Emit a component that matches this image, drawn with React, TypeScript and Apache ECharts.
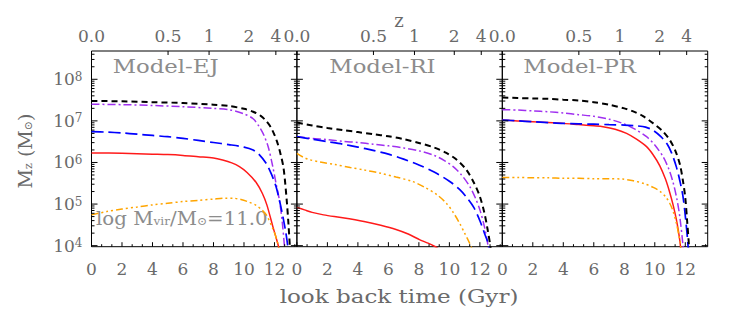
import React, { useEffect, useRef } from 'react';
import * as echarts from 'echarts';

// ---------- axis constants ----------
const X_MAX = 13.47; // age of universe (Gyr) -> right edge of each panel
const Y_MIN = 3.975; // log10 Mz
const Y_MAX = 8.68;
const TIME_TICKS = [0, 2, 4, 6, 8, 10, 12];
const Z_LABELS = ['0.0', '0.5', '1', '2', '4'];
const Z_LOOKBACK = [0, 5.02, 7.71, 10.32, 12.09];
const LOG_TICKS = [4, 5, 6, 7, 8];
const MODEL_NAMES = ['Model-EJ', 'Model-RI', 'Model-PR'];

// ---------- data: [look back time (Gyr), log10 Mz (Msun)] ----------
const EJ_BLACK = [[0, 7.48], [2, 7.47], [4, 7.45], [6, 7.43], [8, 7.39], [9, 7.36], [10, 7.29], [10.6, 7.22], [11.1, 7.12], [11.45, 7.0], [11.8, 6.82], [12.15, 6.52], [12.4, 6.2], [12.6, 5.85], [12.8, 5.1], [12.92, 4.5], [13.02, 3.9], [13.06, 3.5]];
const EJ_PURPLE = [[0, 7.4], [2, 7.39], [4, 7.37], [6, 7.34], [8, 7.3], [9, 7.27], [10, 7.17], [10.6, 7.05], [11.0, 6.86], [11.3, 6.66], [11.6, 6.36], [11.9, 5.88], [12.1, 5.5], [12.32, 5.1], [12.5, 4.6], [12.65, 4.0], [12.72, 3.6]];
const EJ_BLUE = [[0, 6.74], [1, 6.73], [2, 6.71], [3, 6.68], [4, 6.65], [5, 6.62], [6, 6.58], [7, 6.53], [8, 6.48], [9, 6.43], [10, 6.37], [10.6, 6.3], [11.0, 6.19], [11.45, 5.98], [11.8, 5.72], [12.1, 5.42], [12.35, 5.05], [12.55, 4.7], [12.75, 4.3], [12.88, 3.95], [12.95, 3.6]];
const EJ_RED = [[0, 6.23], [2, 6.22], [4, 6.2], [5, 6.19], [6, 6.17], [7, 6.14], [8, 6.11], [8.6, 6.06], [9.2, 5.99], [9.7, 5.9], [10.2, 5.76], [10.8, 5.52], [11.2, 5.26], [11.5, 4.98], [11.9, 4.45], [12.1, 4.2], [12.28, 3.95], [12.35, 3.7]];
const EJ_ORANGE = [[0, 4.74], [1, 4.82], [2, 4.88], [3, 4.93], [4, 4.98], [5, 5.02], [6, 5.06], [7, 5.09], [8, 5.12], [8.8, 5.14], [9.3, 5.14], [9.8, 5.11], [10.3, 5.05], [10.8, 4.97], [11.2, 4.85], [11.5, 4.72], [11.9, 4.4], [12.1, 4.2], [12.28, 3.95], [12.35, 3.7]];

const RI_BLACK = [[0, 6.96], [1, 6.89], [2, 6.83], [3, 6.78], [4, 6.73], [5, 6.68], [6, 6.63], [7, 6.56], [8, 6.47], [9, 6.36], [9.8, 6.23], [10.5, 6.06], [11.1, 5.83], [11.6, 5.52], [12.0, 5.18], [12.3, 4.78], [12.5, 4.4], [12.7, 3.95], [12.76, 3.6]];
const RI_PURPLE = [[0, 6.62], [1, 6.58], [2, 6.55], [3, 6.51], [4, 6.48], [5, 6.44], [6, 6.4], [7, 6.35], [8, 6.28], [9, 6.17], [9.7, 6.04], [10.25, 5.9], [10.8, 5.7], [11.34, 5.42], [11.7, 5.15], [12.0, 4.86], [12.3, 4.45], [12.53, 4.0], [12.6, 3.6]];
const RI_BLUE = [[0, 6.62], [1, 6.56], [2, 6.5], [3, 6.44], [4, 6.37], [5, 6.29], [6, 6.2], [7, 6.08], [8, 5.94], [9, 5.77], [10, 5.55], [10.7, 5.34], [11.2, 5.13], [11.6, 4.92], [12.0, 4.6], [12.3, 4.3], [12.6, 3.98], [12.66, 3.6]];
const RI_RED = [[0, 4.92], [0.5, 4.86], [1, 4.8], [1.75, 4.74], [3, 4.67], [4.4, 4.58], [5.5, 4.49], [6.5, 4.39], [7.3, 4.28], [8.07, 4.14], [8.6, 4.06], [9.05, 3.98], [9.3, 3.92]];
const RI_ORANGE = [[0, 6.22], [0.4, 6.13], [0.8, 6.07], [1.5, 6.01], [2.5, 5.95], [3.5, 5.88], [4.4, 5.82], [5.5, 5.74], [6.5, 5.65], [7.6, 5.54], [8.4, 5.4], [9.2, 5.22], [9.8, 5.02], [10.25, 4.8], [10.7, 4.52], [11.0, 4.3], [11.3, 4.08], [11.45, 3.95], [11.55, 3.6]];

const PR_BLACK = [[0, 7.56], [1, 7.55], [2, 7.54], [3, 7.53], [4, 7.51], [5, 7.49], [6, 7.45], [7, 7.39], [8, 7.3], [8.5, 7.24], [9.2, 7.12], [9.9, 6.94], [10.5, 6.76], [11.0, 6.53], [11.35, 6.28], [11.65, 5.95], [11.85, 5.55], [12.0, 5.15], [12.12, 4.6], [12.24, 4.0], [12.28, 3.6]];
const PR_PURPLE = [[0, 7.27], [1, 7.26], [2, 7.24], [3, 7.22], [4, 7.19], [5, 7.15], [6, 7.11], [7, 7.04], [7.9, 6.94], [8.7, 6.8], [9.46, 6.62], [10.0, 6.42], [10.54, 6.14], [10.9, 5.86], [11.2, 5.52], [11.45, 5.12], [11.63, 4.72], [11.85, 4.0], [11.9, 3.6]];
const PR_BLUE = [[0, 7.02], [1, 7.0], [2, 6.98], [3, 6.96], [4, 6.94], [5, 6.93], [6, 6.92], [7, 6.91], [8, 6.9], [8.8, 6.88], [9.4, 6.85], [9.9, 6.77], [10.4, 6.62], [10.8, 6.45], [11.1, 6.23], [11.41, 5.9], [11.65, 5.55], [11.85, 5.18], [12.02, 4.65], [12.18, 4.0], [12.22, 3.6]];
const PR_RED = [[0, 7.02], [1, 7.0], [2, 6.98], [3, 6.96], [4, 6.94], [5, 6.91], [6, 6.88], [6.6, 6.86], [7.4, 6.8], [8.15, 6.7], [8.8, 6.56], [9.46, 6.38], [9.9, 6.18], [10.33, 5.92], [10.7, 5.6], [10.98, 5.28], [11.2, 4.98], [11.41, 4.64], [11.55, 4.35], [11.68, 4.0], [11.72, 3.6]];
const PR_ORANGE = [[0, 5.64], [1, 5.64], [2, 5.63], [3, 5.63], [4, 5.62], [5, 5.62], [6, 5.61], [7, 5.61], [7.9, 5.6], [8.6, 5.56], [9.3, 5.49], [9.9, 5.4], [10.36, 5.3], [10.7, 5.18], [10.98, 5.02], [11.2, 4.83], [11.41, 4.55], [11.58, 4.25], [11.7, 4.0], [11.75, 3.6]];

const PANELS = [
  { red: EJ_RED, orange: EJ_ORANGE, purple: EJ_PURPLE, blue: EJ_BLUE, black: EJ_BLACK },
  { red: RI_RED, orange: RI_ORANGE, purple: RI_PURPLE, blue: RI_BLUE, black: RI_BLACK },
  { red: PR_RED, orange: PR_ORANGE, purple: PR_PURPLE, blue: PR_BLUE, black: PR_BLACK },
];

// ---------- styles ----------
const FONT = "'DejaVu Serif', 'Liberation Serif', serif";
const TXT = '#6a6a6a';
const LABEL_GRAY = '#8c8c8c';
const LINE_STYLES: { key: string; color: string; width: number; type: any }[] = [
  { key: 'red', color: '#ff1a1a', width: 1.5, type: 'solid' },
  { key: 'orange', color: '#ffa500', width: 1.5, type: [7, 3, 2, 3, 2, 3, 2, 3] },
  { key: 'purple', color: '#a030f0', width: 1.5, type: [8, 3, 2, 3] },
  { key: 'blue', color: '#0000ff', width: 1.7, type: [12, 5] },
  { key: 'black', color: '#000000', width: 2, type: [6, 4] },
];

const GRID_LEFT = 91.5;
const GRID_W = 205.4;
const GRID_TOP = 51;
const GRID_H = 195.7;

const X_MINOR: number[] = [];
for (let k = 1; k * (2 / 3) < X_MAX; k++) if (k % 3 !== 0) X_MINOR.push(k * (2 / 3));
const Y_MINOR: number[] = [];
for (let n = 3; n <= 8; n++) for (let m = 2; m <= 9; m++) {
  const v = n + Math.log10(m);
  if (v > Y_MIN && v < Y_MAX) Y_MINOR.push(v);
}

function tickSeries(i: number) {
  return {
    type: 'custom',
    xAxisIndex: i * 2,
    yAxisIndex: i,
    silent: true,
    clip: false,
    z: 10,
    data: [[0, Y_MIN]],
    renderItem: (params: any, api: any) => {
      const cs = params.coordSys;
      const left = cs.x, right = cs.x + cs.width, top = cs.y, bottom = cs.y + cs.height;
      const children: any[] = [];
      const ln = (x1: number, y1: number, x2: number, y2: number) =>
        children.push({ type: 'line', shape: { x1, y1, x2, y2 }, style: { stroke: '#000', lineWidth: 1 } });
      TIME_TICKS.forEach((v) => { const x = api.coord([v, Y_MIN])[0]; ln(x, bottom, x, bottom - 4.5); });
      X_MINOR.forEach((v) => { const x = api.coord([v, Y_MIN])[0]; ln(x, bottom, x, bottom - 2.5); });
      Z_LOOKBACK.forEach((v) => { const x = api.coord([v, Y_MIN])[0]; ln(x, top, x, top + 4); });
      LOG_TICKS.forEach((v) => { const y = api.coord([0, v])[1]; ln(left, y, left + 6, y); ln(right, y, right - 6, y); });
      Y_MINOR.forEach((v) => { const y = api.coord([0, v])[1]; ln(left, y, left + 3, y); ln(right, y, right - 3, y); });
      return { type: 'group', children };
    },
  };
}

export default function App() {
  const ref = useRef<HTMLDivElement>(null);
  useEffect(() => {
    if (!ref.current) return;
    const chart = echarts.init(ref.current, null, { renderer: 'svg' });
    const grids: any[] = [];
    const xAxes: any[] = [];
    const yAxes: any[] = [];
    const series: any[] = [];
    for (let i = 0; i < 3; i++) {
      grids.push({
        left: GRID_LEFT + i * GRID_W, top: GRID_TOP, width: GRID_W, height: GRID_H,
        show: true, borderColor: '#000', borderWidth: 1, backgroundColor: 'transparent',
        containLabel: false, outerBoundsMode: 'none',
      });
      xAxes.push({
        type: 'value', gridIndex: i, min: 0, max: X_MAX, position: 'bottom',
        axisLine: { show: false }, axisTick: { show: false }, splitLine: { show: false },
        axisLabel: {
          customValues: TIME_TICKS, formatter: (v: number) => String(Math.round(v)),
          margin: 14, fontSize: 17, fontFamily: FONT, color: TXT,
        },
      });
      xAxes.push({
        type: 'value', gridIndex: i, min: 0, max: X_MAX, position: 'top',
        axisLine: { show: false }, axisTick: { show: false }, splitLine: { show: false },
        axisLabel: {
          customValues: Z_LOOKBACK,
          formatter: (v: number) => {
            let best = 0;
            Z_LOOKBACK.forEach((t, k) => { if (Math.abs(t - v) < Math.abs(Z_LOOKBACK[best] - v)) best = k; });
            return Z_LABELS[best];
          },
          margin: 7, fontSize: 17, fontFamily: FONT, color: TXT,
        },
      });
      yAxes.push({
        type: 'value', gridIndex: i, min: Y_MIN, max: Y_MAX,
        axisLine: { show: false }, axisTick: { show: false }, splitLine: { show: false },
        axisLabel: i === 0 ? {
          customValues: LOG_TICKS,
          formatter: (v: number) => `{b|10}{s|${Math.round(v)}}`,
          margin: 9,
          rich: {
            b: { fontSize: 17, fontFamily: FONT, color: TXT },
            s: { fontSize: 12, fontFamily: FONT, color: TXT, padding: [0, 0, 5, 0] },
          },
        } : { show: false },
      });
      const p: any = PANELS[i];
      LINE_STYLES.forEach((ls) => {
        series.push({
          type: 'line', name: ls.key, xAxisIndex: i * 2, yAxisIndex: i,
          data: p[ls.key], showSymbol: false, symbol: 'none', smooth: 0.3,
          clip: true, lineStyle: { color: ls.color, width: ls.width, type: ls.type },
          silent: true,
        });
      });
      series.push(tickSeries(i));
    }

    const modelText = (k: number, x: number) => ({
      type: 'text', x, y: 67, scaleX: 1.2,
      style: { text: MODEL_NAMES[k], fontSize: 19, fontFamily: FONT, fill: LABEL_GRAY, align: 'left', verticalAlign: 'middle' },
    });
    const graphic: any[] = [
      modelText(0, 112.7),
      modelText(1, 329.3),
      modelText(2, 523.3),
      { type: 'text', x: 399, y: 20, style: { text: 'z', fontSize: 18, fontFamily: FONT, fill: TXT, align: 'center', verticalAlign: 'middle' } },
      { type: 'text', x: 399, y: 297, scaleX: 1.28, style: { text: 'look back time (Gyr)', fontSize: 18, fontFamily: FONT, fill: TXT, align: 'center', verticalAlign: 'middle' } },
      {
        type: 'text', x: 25, y: 151, rotation: Math.PI / 2,
        style: {
          text: '{m|M}{sub|z}{m| (M}{sub|⊙}{m|)}', align: 'center', verticalAlign: 'middle', fill: TXT,
          rich: {
            m: { fontSize: 19, fontFamily: FONT, fill: TXT },
            sub: { fontSize: 11, fontFamily: FONT, fill: TXT, padding: [7, 0, 0, 0] },
          },
        },
      },
      {
        type: 'text', x: 96, y: 218, scaleX: 1.1,
        style: {
          text: '{t|log M}{sub|vir}{t|/M}{sub|⊙}{t|=11.0}', align: 'left', verticalAlign: 'middle', fill: LABEL_GRAY,
          rich: {
            t: { fontSize: 18, fontFamily: FONT, fill: LABEL_GRAY },
            sub: { fontSize: 11, fontFamily: FONT, fill: LABEL_GRAY, padding: [7, 0, 0, 0] },
          },
        },
      },
    ];

    chart.setOption({
      animation: false,
      backgroundColor: '#ffffff',
      grid: grids,
      xAxis: xAxes,
      yAxis: yAxes,
      series,
      graphic,
    });
    return () => chart.dispose();
  }, []);
  return <div ref={ref} style={{ position: 'absolute', left: 0, top: 0, width: 747, height: 321 }} />;
}
